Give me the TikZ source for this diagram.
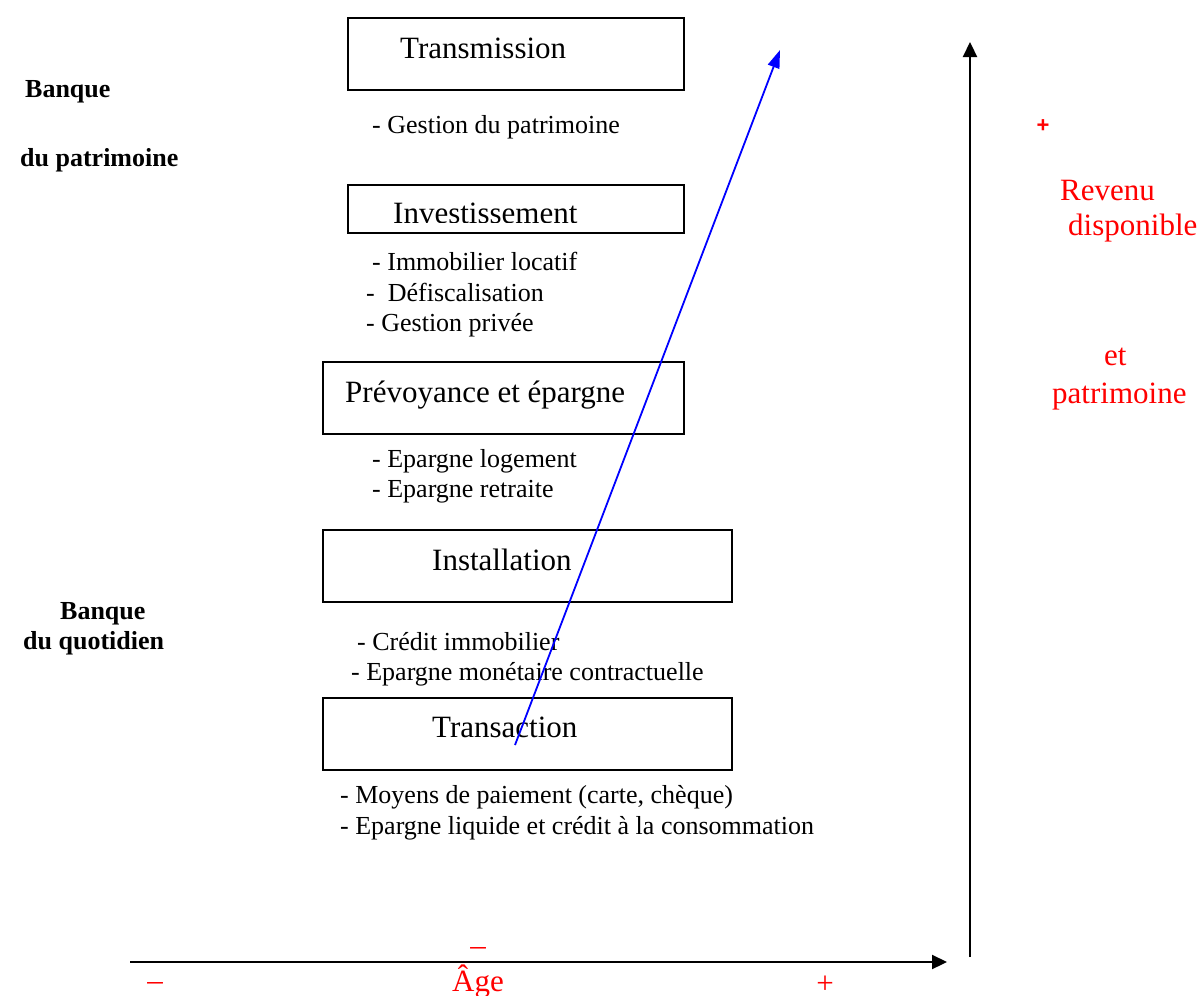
\documentclass[tikz,border=0pt]{standalone}
\usepackage{fontspec}
\setmainfont{Liberation Serif}
\setsansfont{Liberation Sans}
\usetikzlibrary{arrows.meta}
\definecolor{axred}{RGB}{255,0,0}
\definecolor{arrblue}{RGB}{0,0,255}
\begin{document}
\begin{tikzpicture}[x=1pt,y=-1pt,
  box/.style={draw=black, line width=2.2pt, rectangle, inner sep=0pt, anchor=north west},
  boxlabel/.style={anchor=base west, inner sep=0pt, font=\fontsize{31}{36}\selectfont},
  bul/.style={anchor=base west, inner sep=0pt, font=\fontsize{26}{30}\selectfont},
  side/.style={anchor=base west, inner sep=0pt, font=\bfseries\fontsize{26}{30}\selectfont},
  redlab/.style={anchor=base west, inner sep=0pt, text=axred, font=\fontsize{31}{36}\selectfont},
  redsign/.style={inner sep=0pt, text=axred, font=\fontsize{31}{36}\selectfont},
  axis/.style={line width=2.2pt, -{Triangle[length=15pt,width=14pt]}},
  growth/.style={draw=arrblue, line width=1.8pt, -{Triangle[length=18pt,width=12pt]}}
]
\useasboundingbox (0,0) rectangle (1203,996);

% boxes
\node[box, minimum width=336pt, minimum height=72pt] (transmission) at (347,17) {};
\node[box, minimum width=336pt, minimum height=48pt] (investissement) at (347,184) {};
\node[box, minimum width=361pt, minimum height=72pt] (prevoyance) at (322,361) {};
\node[box, minimum width=409pt, minimum height=72pt] (installation) at (322,529) {};
\node[box, minimum width=409pt, minimum height=72pt] (transaction) at (322,697) {};

% box labels
\node[boxlabel] (ltransmission) at (400,58) {Transmission};
\begin{scope}
  \clip (347,184) rectangle (683,222.5);
  \node[boxlabel] (linvest) at (393,223.5) {Investissement};
\end{scope}
\node[boxlabel] (lprev) at (345,402) {Prévoyance et épargne};
\node[boxlabel] (linstall) at (432,570) {Installation};
\node[boxlabel] (ltrans) at (432,737) {Transaction};

% bullet items
\node[bul] (b1) at (372,133) {- Gestion du patrimoine};
\node[bul] (b2) at (372,270) {- Immobilier locatif};
\node[bul] (b3) at (366,301) {-\ \ Défiscalisation};
\node[bul] (b4) at (366,331) {- Gestion privée};
\node[bul] (b5) at (372,467) {- Epargne logement};
\node[bul] (b6) at (372,497) {- Epargne retraite};
\node[bul] (b7) at (357,650) {- Crédit immobilier};
\node[bul] (b8) at (351,680) {- Epargne monétaire contractuelle};
\node[bul] (b9) at (340,803) {- Moyens de paiement (carte, chèque)};
\node[bul] (b10) at (340,834) {- Epargne liquide et crédit à la consommation};

% side labels
\node[side] (s1) at (25,97) {Banque};
\node[side] (s2) at (20,166) {du patrimoine};
\node[side] (s3) at (60,619) {Banque};
\node[side] (s4) at (23,649) {du quotidien};

% right red labels
\node[redsign, font=\sffamily\bfseries\fontsize{22}{26}\selectfont] (rplus) at (1043,126) {+};
\node[redlab] (rrev) at (1060,200) {Revenu};
\node[redlab] (rdisp) at (1068,235) {disponible};
\node[redlab] (ret) at (1104,365) {et};
\node[redlab] (rpat) at (1052,403) {patrimoine};

% bottom red labels
\node[redlab] (age) at (452,991) {Âge};
\node[redsign] (aminus) at (478,951) {–};
\node[redsign, anchor=base, text depth=0pt] (bminus) at (155,990) {–};
\node[redsign, anchor=base, text depth=0pt] (bplus) at (825,993) {+};

% axes
\coordinate (hstart) at (130,962);
\coordinate (hend) at (947,962);
\coordinate (vstart) at (970,957);
\coordinate (vend) at (970,42);
\draw[axis] (hstart) -- (hend);
\draw[axis] (vstart) -- (vend);

% growth arrow
\coordinate (gstart) at (515,745);
\coordinate (gend) at (780,50);
\draw[growth] (gstart) -- (gend);
\end{tikzpicture}
\end{document}
